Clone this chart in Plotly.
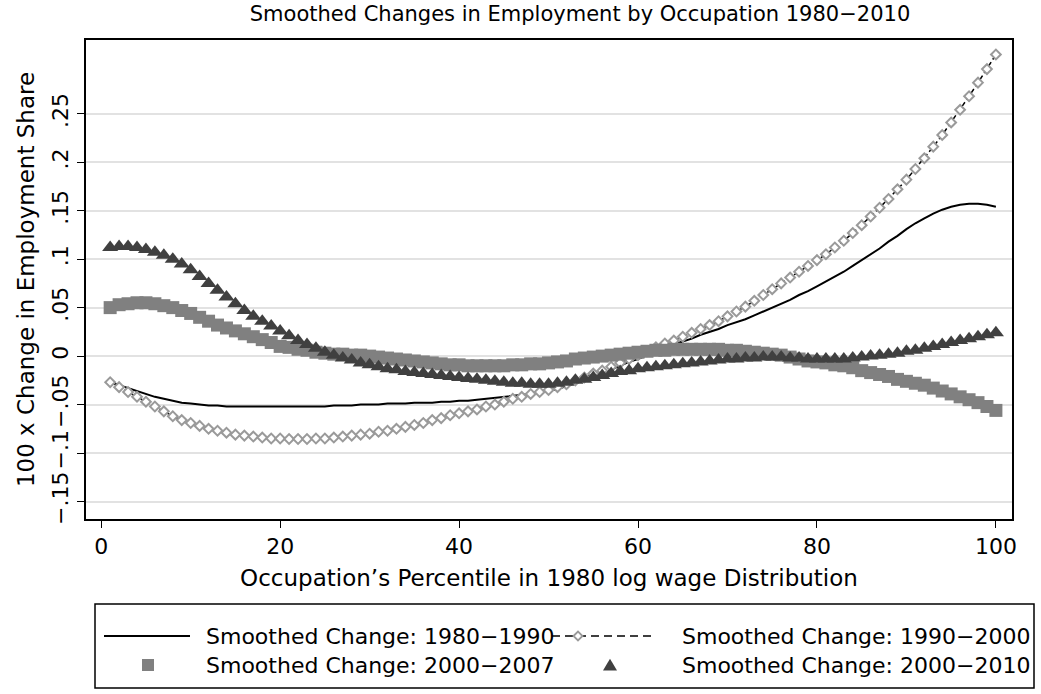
import plotly.graph_objects as go

x_pct = list(range(1, 101))

# 1980-1990 (solid line)
chg_1980_1990 = [
    -.027, -.030, -.033, -.036, -.039, -.042, -.044, -.046, -.048, -.049,
    -.050, -.051, -.051, -.052, -.052, -.052, -.052, -.052, -.052, -.052,
    -.052, -.052, -.052, -.052, -.052, -.051, -.051, -.051, -.050, -.050,
    -.050, -.049, -.049, -.049, -.048, -.048, -.048, -.047, -.047, -.046,
    -.046, -.045, -.044, -.043, -.042, -.041, -.040, -.039, -.037, -.036,
    -.034, -.031, -.028, -.025, -.021, -.018, -.014, -.010, -.006, -.003,
    .001, .005, .008, .012, .015, .018, .022, .025, .028, .032,
    .035, .038, .042, .046, .050, .054, .058, .063, .067, .072,
    .077, .082, .087, .093, .099, .105, .111, .118, .124, .131,
    .137, .142, .147, .151, .154, .156, .157, .157, .156, .154,
]

# 1990-2000 (dashed line with diamonds)
chg_1990_2000 = [
    -.027, -.032, -.037, -.042, -.047, -.052, -.057, -.062, -.066, -.069,
    -.072, -.075, -.077, -.079, -.081, -.082, -.083, -.084, -.085, -.085,
    -.0855, -.0855, -.0855, -.085, -.085, -.084, -.083, -.082, -.081, -.080,
    -.078, -.077, -.075, -.073, -.071, -.069, -.066, -.064, -.061, -.059,
    -.057, -.055, -.052, -.050, -.047, -.044, -.042, -.039, -.037, -.035,
    -.032, -.029, -.025, -.022, -.018, -.015, -.011, -.007, -.003, .001,
    .005, .009, .013, .016, .020, .024, .028, .032, .036, .041,
    .046, .051, .057, .063, .069, .075, .081, .087, .093, .099,
    .105, .112, .119, .127, .135, .144, .153, .162, .172, .182,
    .193, .204, .216, .228, .241, .254, .268, .282, .296, .311,
]

# 2000-2007 (squares)
chg_2000_2007 = [
    .050, .053, .054, .055, .055, .054, .052, .050, .047, .044,
    .040, .036, .032, .029, .026, .023, .020, .017, .014, .010,
    .009, .007, .006, .004, .003, .002, .002, .001, .001, .000,
    -.001, -.002, -.003, -.004, -.005, -.006, -.007, -.008, -.009, -.009,
    -.010, -.010, -.010, -.010, -.010, -.009, -.009, -.008, -.008, -.007,
    -.006, -.005, -.003, -.002, -.001, .000, .001, .002, .003, .004,
    .005, .006, .006, .007, .007, .007, .007, .007, .007, .006,
    .006, .005, .004, .003, .002, .001, -.001, -.003, -.005, -.006,
    -.007, -.009, -.010, -.012, -.015, -.017, -.019, -.021, -.024, -.026,
    -.028, -.030, -.033, -.036, -.039, -.042, -.045, -.048, -.052, -.056,
]

# 2000-2010 (triangles)
chg_2000_2010 = [
    .112, .113, .113, .112, .110, .107, .104, .100, .095, .089,
    .082, .075, .068, .061, .054, .047, .041, .036, .031, .026,
    .021, .016, .012, .008, .004, .001, -.002, -.004, -.007, -.009,
    -.011, -.013, -.014, -.016, -.017, -.018, -.019, -.020, -.021, -.022,
    -.023, -.024, -.025, -.026, -.027, -.028, -.028, -.029, -.029, -.029,
    -.028, -.027, -.025, -.024, -.022, -.020, -.018, -.016, -.015, -.013,
    -.012, -.011, -.010, -.009, -.008, -.007, -.006, -.005, -.004, -.003,
    -.003, -.002, -.002, -.001, -.001, -.001, -.002, -.002, -.003, -.003,
    -.003, -.003, -.003, -.002, -.001, .000, .001, .002, .003, .005,
    .006, .008, .010, .012, .014, .016, .018, .020, .022, .024,
]

series_names = [
    "Smoothed Change: 1980\u22121990",
    "Smoothed Change: 1990\u22122000",
    "Smoothed Change: 2000\u22122007",
    "Smoothed Change: 2000\u22122010",
]

y_ticks = [-.15, -.1, -.05, 0, .05, .1, .15, .2, .25]
y_tick_text = ["\u2212.15", "\u2212.1", "\u2212.05", "0", ".05", ".1", ".15", ".2", ".25"]
x_ticks = [0, 20, 40, 60, 80, 100]

FONT = "DejaVu Sans, Liberation Sans, sans-serif"
W, H = 1041, 694
ML, MR, MT, MB = 86, 29, 40, 175
PW, PH = W - ML - MR, H - MT - MB

DIAMOND_EDGE = "#9a9a9a"
SQUARE_COL = "#808080"
TRI_COL = "#404040"


def px_x(p):
    return (p - ML) / PW


def px_y(p):
    return (H - MB - p) / PH


fig = go.Figure()
fig.add_trace(go.Scatter(
    x=x_pct, y=chg_1980_1990, mode="lines", name=series_names[0],
    line=dict(color="black", width=2),
))
fig.add_trace(go.Scatter(
    x=x_pct, y=chg_1990_2000, mode="lines+markers", name=series_names[1],
    line=dict(color="black", width=1.5, dash="5px,3px"),
    marker=dict(symbol="diamond", size=7.5, color="white",
                line=dict(color=DIAMOND_EDGE, width=2)),
))
fig.add_trace(go.Scatter(
    x=x_pct, y=chg_2000_2007, mode="markers", name=series_names[2],
    marker=dict(symbol="square", size=13, color=SQUARE_COL, line=dict(width=0)),
))
fig.add_trace(go.Scatter(
    x=x_pct, y=chg_2000_2010, mode="markers", name=series_names[3],
    marker=dict(symbol="triangle-up", size=14, color=TRI_COL, line=dict(width=0)),
))

# ---- manual legend (layout decoration) ----
shapes = []
annotations = []
row_y = [636, 665]
shapes.append(dict(type="rect", xref="paper", yref="paper",
                   x0=px_x(95), x1=px_x(1034), y0=px_y(688), y1=px_y(604),
                   line=dict(color="black", width=1.5), fillcolor="rgba(0,0,0,0)"))
shapes.append(dict(type="line", xref="paper", yref="paper",
                   x0=px_x(104), x1=px_x(190), y0=px_y(row_y[0]), y1=px_y(row_y[0]),
                   line=dict(color="black", width=2)))
shapes.append(dict(type="line", xref="paper", yref="paper",
                   x0=px_x(552), x1=px_x(652), y0=px_y(row_y[0]), y1=px_y(row_y[0]),
                   line=dict(color="black", width=1.5, dash="8px,5px")))
dcx, dcy, dr = 578, row_y[0], 4.5
shapes.append(dict(type="path", xref="paper", yref="paper",
                   path=f"M {px_x(dcx - dr)},{px_y(dcy)} L {px_x(dcx)},{px_y(dcy - dr)} "
                        f"L {px_x(dcx + dr)},{px_y(dcy)} L {px_x(dcx)},{px_y(dcy + dr)} Z",
                   line=dict(color=DIAMOND_EDGE, width=1.8), fillcolor="white"))
sq = 6
shapes.append(dict(type="rect", xref="paper", yref="paper",
                   x0=px_x(148 - sq), x1=px_x(148 + sq), y0=px_y(row_y[1] + sq), y1=px_y(row_y[1] - sq),
                   line=dict(width=0), fillcolor=SQUARE_COL))
tcx, tcy, tr = 610, row_y[1], 7
shapes.append(dict(type="path", xref="paper", yref="paper",
                   path=f"M {px_x(tcx - tr)},{px_y(tcy + tr * 0.8)} L {px_x(tcx + tr)},{px_y(tcy + tr * 0.8)} "
                        f"L {px_x(tcx)},{px_y(tcy - tr * 0.9)} Z",
                   line=dict(width=0), fillcolor=TRI_COL))

text_pos = [(204, row_y[0]), (680, row_y[0]), (204, row_y[1]), (680, row_y[1])]
for name, (tx, ty) in zip(series_names, text_pos):
    annotations.append(dict(text=name, xref="paper", yref="paper",
                            x=px_x(tx), y=px_y(ty), xanchor="left", yanchor="middle",
                            showarrow=False, font=dict(family=FONT, size=22, color="black")))

fig.update_layout(
    width=W, height=H,
    paper_bgcolor="white", plot_bgcolor="white",
    font=dict(family=FONT, size=22, color="black"),
    margin=dict(l=ML, r=MR, t=MT, b=MB, autoexpand=False),
    title=dict(text="Smoothed Changes in Employment by Occupation 1980\u22122010",
               x=580 / W, xanchor="center", y=1 - 14 / H, yanchor="middle",
               font=dict(family=FONT, size=21, color="black")),
    showlegend=False,
    shapes=shapes,
    annotations=annotations,
    xaxis=dict(range=[-1.7, 101.8], tickvals=x_ticks, ticks="outside", ticklen=7,
               tickcolor="black", showgrid=False, zeroline=False, automargin=False,
               showline=True, linecolor="black", linewidth=1.5, mirror=True,
               title=dict(text="Occupation\u2019s Percentile in 1980 log wage Distribution",
                          font=dict(size=23), standoff=12),
               tickfont=dict(size=22)),
    yaxis=dict(range=[-0.168, 0.326], tickvals=y_ticks, ticktext=y_tick_text,
               tickangle=-90, ticks="outside", ticklen=7, tickcolor="black",
               showgrid=True, gridcolor="#e2e2e2", gridwidth=1.5, zeroline=False,
               automargin=False,
               showline=True, linecolor="black", linewidth=1.5, mirror=True,
               title=dict(text="100 x Change in Employment Share", font=dict(size=23),
                          standoff=7),
               tickfont=dict(size=22)),
)

fig.write_html("out.html",
               config={"displayModeBar": False},
               post_script="document.body.style.margin='0px'; document.body.style.padding='0px';")
